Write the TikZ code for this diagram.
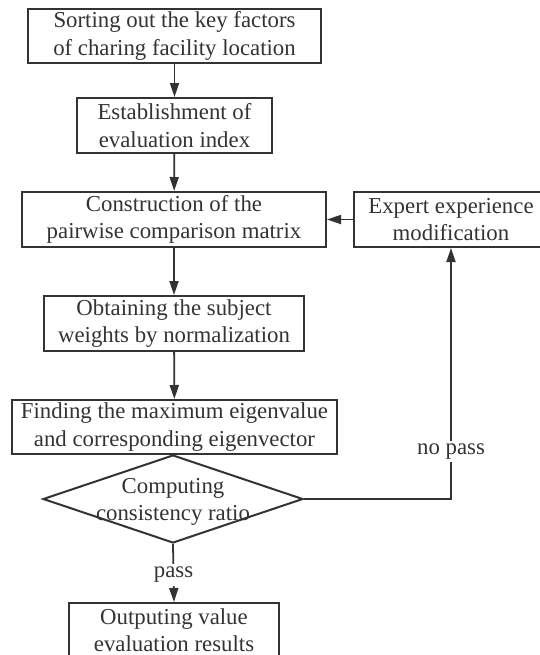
\documentclass[tikz,border=0pt]{standalone}
\usepackage{fontspec}
\setmainfont{Liberation Serif}
\usepackage{tikz}
\usetikzlibrary{shapes,arrows.meta,positioning,calc}

\definecolor{inkgray}{HTML}{333333}
\tikzset{
    procbox/.style={draw=inkgray, line width=1pt, align=center, inner sep=0pt, text=inkgray,
        font=\fontsize{11.4}{13.6}\selectfont},
    flowarrow/.style={draw=inkgray, line width=0.9pt, -{Triangle[length=7pt,width=4.5pt]}},
    flowline/.style={draw=inkgray, line width=0.9pt},
    tag/.style={fill=white, inner sep=1.5pt, text=inkgray, font=\fontsize{11.4}{13.6}\selectfont}
}

\begin{document}
\begin{tikzpicture}[x=0.5pt, y=-0.5pt]
    % Frame
    \useasboundingbox (0,0) rectangle (540,655);

    % Main column
    \node[procbox, minimum width=146.5pt, minimum height=27pt] (factors) at (174.5,36) {Sorting out the key factors\\of charing facility location};
    \node[procbox, minimum width=97.5pt, minimum height=27.5pt] (index) at (174.5,125.5) {Establishment of\\evaluation index};
    \node[procbox, minimum width=152pt, minimum height=27.5pt] (matrix) at (174,219.5) {Construction of the\\pairwise comparison matrix};
    \node[procbox, minimum width=97pt, minimum height=27.5pt] (expert) at (451,219.5) {Expert experience\\modification};
    \node[procbox, minimum width=130pt, minimum height=27.5pt] (weights) at (174,323.5) {Obtaining the subject\\weights by normalization};
    \node[procbox, minimum width=162.5pt, minimum height=27pt] (eigen) at (174.5,427) {Finding the maximum eigenvalue\\and corresponding eigenvector};
    \node[diamond, draw=inkgray, line width=1pt, minimum width=130pt, minimum height=44pt, inner sep=0pt,
        label={[procbox, draw=none, yshift=-1.5pt]center:Computing\\consistency ratio}] (ratio) at (173,499) {};
    \node[procbox, minimum width=105pt, minimum height=27.5pt] (output) at (174,630.5) {Outputing value\\evaluation results};

    % Arrows
    \draw[flowarrow] (factors) -- (index);
    \draw[flowarrow] (index) -- (matrix);
    \draw[flowarrow] (matrix) -- (weights);
    \draw[flowarrow] (weights) -- (eigen);
    \draw[flowline] (eigen) -- (ratio);
    \draw[flowarrow] (expert) -- (matrix);
    \draw[flowarrow] (ratio.south) -- (output.north) node[tag, pos=0.53] {pass};

    % Feedback
    \coordinate (turn) at (expert.south |- ratio.east);
    \draw[flowarrow] (ratio.east) -- (turn) -- (expert.south) node[tag, pos=0.19] {no pass};
\end{tikzpicture}
\end{document}
